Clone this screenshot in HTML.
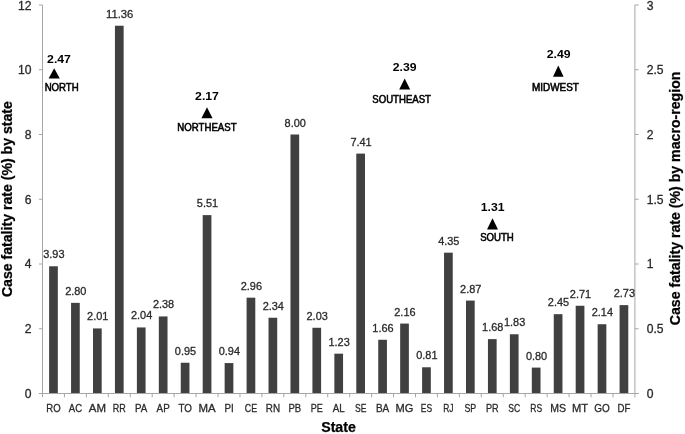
<!DOCTYPE html><html><head><meta charset="utf-8"><style>html,body{margin:0;padding:0;background:#fff;}svg{display:block;}text{font-family:"Liberation Sans",Arial,sans-serif;}</style></head><body>
<svg width="685" height="434" viewBox="0 0 685 434">
<rect width="685" height="434" fill="#fff"/>
<g fill="#404040">
<rect x="49.12" y="266.27" width="8.70" height="127.23"/>
<rect x="71.06" y="302.85" width="8.70" height="90.65"/>
<rect x="93.00" y="328.43" width="8.70" height="65.07"/>
<rect x="114.94" y="25.72" width="8.70" height="367.78"/>
<rect x="136.88" y="327.45" width="8.70" height="66.05"/>
<rect x="158.82" y="316.45" width="8.70" height="77.05"/>
<rect x="180.76" y="362.74" width="8.70" height="30.76"/>
<rect x="202.71" y="215.11" width="8.70" height="178.39"/>
<rect x="224.65" y="363.07" width="8.70" height="30.43"/>
<rect x="246.59" y="297.67" width="8.70" height="95.83"/>
<rect x="268.53" y="317.74" width="8.70" height="75.76"/>
<rect x="290.47" y="134.50" width="8.70" height="259.00"/>
<rect x="312.41" y="327.78" width="8.70" height="65.72"/>
<rect x="334.35" y="353.68" width="8.70" height="39.82"/>
<rect x="356.29" y="153.60" width="8.70" height="239.90"/>
<rect x="378.23" y="339.76" width="8.70" height="53.74"/>
<rect x="400.17" y="323.57" width="8.70" height="69.93"/>
<rect x="422.11" y="367.28" width="8.70" height="26.22"/>
<rect x="444.05" y="252.67" width="8.70" height="140.83"/>
<rect x="465.99" y="300.58" width="8.70" height="92.92"/>
<rect x="487.94" y="339.11" width="8.70" height="54.39"/>
<rect x="509.88" y="334.25" width="8.70" height="59.25"/>
<rect x="531.82" y="367.60" width="8.70" height="25.90"/>
<rect x="553.76" y="314.18" width="8.70" height="79.32"/>
<rect x="575.70" y="305.76" width="8.70" height="87.74"/>
<rect x="597.64" y="324.22" width="8.70" height="69.28"/>
<rect x="619.58" y="305.12" width="8.70" height="88.38"/>
</g>
<g stroke="#a6a6a6" stroke-width="1" fill="none">
<line x1="42.5" y1="5.0" x2="42.5" y2="393.5"/>
<line x1="634.9" y1="5.0" x2="634.9" y2="393.5"/>
<line x1="38.9" y1="393.5" x2="638.6999999999999" y2="393.5"/>
<line x1="38.9" y1="393.50" x2="42.5" y2="393.50"/>
<line x1="634.9" y1="393.50" x2="638.6999999999999" y2="393.50"/>
<line x1="38.9" y1="328.75" x2="42.5" y2="328.75"/>
<line x1="634.9" y1="328.75" x2="638.6999999999999" y2="328.75"/>
<line x1="38.9" y1="264.00" x2="42.5" y2="264.00"/>
<line x1="634.9" y1="264.00" x2="638.6999999999999" y2="264.00"/>
<line x1="38.9" y1="199.25" x2="42.5" y2="199.25"/>
<line x1="634.9" y1="199.25" x2="638.6999999999999" y2="199.25"/>
<line x1="38.9" y1="134.50" x2="42.5" y2="134.50"/>
<line x1="634.9" y1="134.50" x2="638.6999999999999" y2="134.50"/>
<line x1="38.9" y1="69.75" x2="42.5" y2="69.75"/>
<line x1="634.9" y1="69.75" x2="638.6999999999999" y2="69.75"/>
<line x1="38.9" y1="5.00" x2="42.5" y2="5.00"/>
<line x1="634.9" y1="5.00" x2="638.6999999999999" y2="5.00"/>
<line x1="42.50" y1="393.5" x2="42.50" y2="397.3"/>
<line x1="64.44" y1="393.5" x2="64.44" y2="397.3"/>
<line x1="86.38" y1="393.5" x2="86.38" y2="397.3"/>
<line x1="108.32" y1="393.5" x2="108.32" y2="397.3"/>
<line x1="130.26" y1="393.5" x2="130.26" y2="397.3"/>
<line x1="152.20" y1="393.5" x2="152.20" y2="397.3"/>
<line x1="174.14" y1="393.5" x2="174.14" y2="397.3"/>
<line x1="196.09" y1="393.5" x2="196.09" y2="397.3"/>
<line x1="218.03" y1="393.5" x2="218.03" y2="397.3"/>
<line x1="239.97" y1="393.5" x2="239.97" y2="397.3"/>
<line x1="261.91" y1="393.5" x2="261.91" y2="397.3"/>
<line x1="283.85" y1="393.5" x2="283.85" y2="397.3"/>
<line x1="305.79" y1="393.5" x2="305.79" y2="397.3"/>
<line x1="327.73" y1="393.5" x2="327.73" y2="397.3"/>
<line x1="349.67" y1="393.5" x2="349.67" y2="397.3"/>
<line x1="371.61" y1="393.5" x2="371.61" y2="397.3"/>
<line x1="393.55" y1="393.5" x2="393.55" y2="397.3"/>
<line x1="415.49" y1="393.5" x2="415.49" y2="397.3"/>
<line x1="437.43" y1="393.5" x2="437.43" y2="397.3"/>
<line x1="459.37" y1="393.5" x2="459.37" y2="397.3"/>
<line x1="481.31" y1="393.5" x2="481.31" y2="397.3"/>
<line x1="503.26" y1="393.5" x2="503.26" y2="397.3"/>
<line x1="525.20" y1="393.5" x2="525.20" y2="397.3"/>
<line x1="547.14" y1="393.5" x2="547.14" y2="397.3"/>
<line x1="569.08" y1="393.5" x2="569.08" y2="397.3"/>
<line x1="591.02" y1="393.5" x2="591.02" y2="397.3"/>
<line x1="612.96" y1="393.5" x2="612.96" y2="397.3"/>
<line x1="634.90" y1="393.5" x2="634.90" y2="397.3"/>
</g>
<g fill="#2a2a2a" stroke="#2a2a2a" stroke-width="0.3">
<text x="31.40" y="397.95" font-size="12.2" text-anchor="end" textLength="6.76" lengthAdjust="spacingAndGlyphs">0</text>
<text x="31.40" y="333.20" font-size="12.2" text-anchor="end" textLength="6.76" lengthAdjust="spacingAndGlyphs">2</text>
<text x="31.40" y="268.45" font-size="12.2" text-anchor="end" textLength="6.76" lengthAdjust="spacingAndGlyphs">4</text>
<text x="31.40" y="203.70" font-size="12.2" text-anchor="end" textLength="6.76" lengthAdjust="spacingAndGlyphs">6</text>
<text x="31.40" y="138.95" font-size="12.2" text-anchor="end" textLength="6.76" lengthAdjust="spacingAndGlyphs">8</text>
<text x="31.40" y="74.20" font-size="12.2" text-anchor="end" textLength="13.51" lengthAdjust="spacingAndGlyphs">10</text>
<text x="31.40" y="10.15" font-size="12.2" text-anchor="end" textLength="13.51" lengthAdjust="spacingAndGlyphs">12</text>
<text x="646.70" y="397.95" font-size="12.2" text-anchor="start" textLength="6.76" lengthAdjust="spacingAndGlyphs">0</text>
<text x="646.70" y="333.20" font-size="12.2" text-anchor="start" textLength="16.88" lengthAdjust="spacingAndGlyphs">0.5</text>
<text x="646.70" y="268.45" font-size="12.2" text-anchor="start" textLength="6.76" lengthAdjust="spacingAndGlyphs">1</text>
<text x="646.70" y="203.70" font-size="12.2" text-anchor="start" textLength="16.88" lengthAdjust="spacingAndGlyphs">1.5</text>
<text x="646.70" y="138.95" font-size="12.2" text-anchor="start" textLength="6.76" lengthAdjust="spacingAndGlyphs">2</text>
<text x="646.70" y="74.20" font-size="12.2" text-anchor="start" textLength="16.88" lengthAdjust="spacingAndGlyphs">2.5</text>
<text x="646.70" y="10.15" font-size="12.2" text-anchor="start" textLength="6.76" lengthAdjust="spacingAndGlyphs">3</text>
</g>
<g fill="#2a2a2a" stroke="#2a2a2a" stroke-width="0.3">
<text x="53.87" y="258.27" font-size="11.1" text-anchor="middle" textLength="21.28" lengthAdjust="spacingAndGlyphs">3.93</text>
<text x="75.81" y="294.85" font-size="11.1" text-anchor="middle" textLength="21.28" lengthAdjust="spacingAndGlyphs">2.80</text>
<text x="97.75" y="320.43" font-size="11.1" text-anchor="middle" textLength="21.28" lengthAdjust="spacingAndGlyphs">2.01</text>
<text x="119.69" y="17.72" font-size="11.1" text-anchor="middle" textLength="27.36" lengthAdjust="spacingAndGlyphs">11.36</text>
<text x="141.63" y="319.45" font-size="11.1" text-anchor="middle" textLength="21.28" lengthAdjust="spacingAndGlyphs">2.04</text>
<text x="163.57" y="308.45" font-size="11.1" text-anchor="middle" textLength="21.28" lengthAdjust="spacingAndGlyphs">2.38</text>
<text x="185.51" y="354.74" font-size="11.1" text-anchor="middle" textLength="21.28" lengthAdjust="spacingAndGlyphs">0.95</text>
<text x="207.46" y="207.11" font-size="11.1" text-anchor="middle" textLength="21.28" lengthAdjust="spacingAndGlyphs">5.51</text>
<text x="229.40" y="355.07" font-size="11.1" text-anchor="middle" textLength="21.28" lengthAdjust="spacingAndGlyphs">0.94</text>
<text x="251.34" y="289.67" font-size="11.1" text-anchor="middle" textLength="21.28" lengthAdjust="spacingAndGlyphs">2.96</text>
<text x="273.28" y="309.74" font-size="11.1" text-anchor="middle" textLength="21.28" lengthAdjust="spacingAndGlyphs">2.34</text>
<text x="295.22" y="126.50" font-size="11.1" text-anchor="middle" textLength="21.28" lengthAdjust="spacingAndGlyphs">8.00</text>
<text x="317.16" y="319.78" font-size="11.1" text-anchor="middle" textLength="21.28" lengthAdjust="spacingAndGlyphs">2.03</text>
<text x="339.10" y="345.68" font-size="11.1" text-anchor="middle" textLength="21.28" lengthAdjust="spacingAndGlyphs">1.23</text>
<text x="361.04" y="145.60" font-size="11.1" text-anchor="middle" textLength="21.28" lengthAdjust="spacingAndGlyphs">7.41</text>
<text x="382.98" y="331.76" font-size="11.1" text-anchor="middle" textLength="21.28" lengthAdjust="spacingAndGlyphs">1.66</text>
<text x="404.92" y="315.57" font-size="11.1" text-anchor="middle" textLength="21.28" lengthAdjust="spacingAndGlyphs">2.16</text>
<text x="426.86" y="359.28" font-size="11.1" text-anchor="middle" textLength="21.28" lengthAdjust="spacingAndGlyphs">0.81</text>
<text x="448.80" y="244.67" font-size="11.1" text-anchor="middle" textLength="21.28" lengthAdjust="spacingAndGlyphs">4.35</text>
<text x="470.74" y="292.58" font-size="11.1" text-anchor="middle" textLength="21.28" lengthAdjust="spacingAndGlyphs">2.87</text>
<text x="492.69" y="331.11" font-size="11.1" text-anchor="middle" textLength="21.28" lengthAdjust="spacingAndGlyphs">1.68</text>
<text x="514.63" y="326.25" font-size="11.1" text-anchor="middle" textLength="21.28" lengthAdjust="spacingAndGlyphs">1.83</text>
<text x="536.57" y="359.60" font-size="11.1" text-anchor="middle" textLength="21.28" lengthAdjust="spacingAndGlyphs">0.80</text>
<text x="558.51" y="306.18" font-size="11.1" text-anchor="middle" textLength="21.28" lengthAdjust="spacingAndGlyphs">2.45</text>
<text x="580.45" y="297.76" font-size="11.1" text-anchor="middle" textLength="21.28" lengthAdjust="spacingAndGlyphs">2.71</text>
<text x="602.39" y="316.22" font-size="11.1" text-anchor="middle" textLength="21.28" lengthAdjust="spacingAndGlyphs">2.14</text>
<text x="624.33" y="297.12" font-size="11.1" text-anchor="middle" textLength="21.28" lengthAdjust="spacingAndGlyphs">2.73</text>
</g>
<g fill="#2a2a2a" stroke="#2a2a2a" stroke-width="0.3">
<text x="53.47" y="412.00" font-size="11.1" text-anchor="middle" textLength="14.34" lengthAdjust="spacingAndGlyphs">RO</text>
<text x="75.41" y="412.00" font-size="11.1" text-anchor="middle" textLength="13.25" lengthAdjust="spacingAndGlyphs">AC</text>
<text x="97.35" y="412.00" font-size="11.1" text-anchor="middle" textLength="17.20" lengthAdjust="spacingAndGlyphs">AM</text>
<text x="119.29" y="412.00" font-size="11.1" text-anchor="middle" textLength="13.03" lengthAdjust="spacingAndGlyphs">RR</text>
<text x="141.23" y="412.00" font-size="11.1" text-anchor="middle" textLength="12.26" lengthAdjust="spacingAndGlyphs">PA</text>
<text x="163.17" y="412.00" font-size="11.1" text-anchor="middle" textLength="13.14" lengthAdjust="spacingAndGlyphs">AP</text>
<text x="185.11" y="412.00" font-size="11.1" text-anchor="middle" textLength="13.45" lengthAdjust="spacingAndGlyphs">TO</text>
<text x="207.06" y="412.00" font-size="11.1" text-anchor="middle" textLength="17.20" lengthAdjust="spacingAndGlyphs">MA</text>
<text x="229.00" y="412.00" font-size="11.1" text-anchor="middle" textLength="9.22" lengthAdjust="spacingAndGlyphs">PI</text>
<text x="250.94" y="412.00" font-size="11.1" text-anchor="middle" textLength="12.26" lengthAdjust="spacingAndGlyphs">CE</text>
<text x="272.88" y="412.00" font-size="11.1" text-anchor="middle" textLength="14.26" lengthAdjust="spacingAndGlyphs">RN</text>
<text x="294.82" y="412.00" font-size="11.1" text-anchor="middle" textLength="12.73" lengthAdjust="spacingAndGlyphs">PB</text>
<text x="316.76" y="412.00" font-size="11.1" text-anchor="middle" textLength="12.06" lengthAdjust="spacingAndGlyphs">PE</text>
<text x="338.70" y="412.00" font-size="11.1" text-anchor="middle" textLength="11.99" lengthAdjust="spacingAndGlyphs">AL</text>
<text x="360.64" y="412.00" font-size="11.1" text-anchor="middle" textLength="11.37" lengthAdjust="spacingAndGlyphs">SE</text>
<text x="382.58" y="412.00" font-size="11.1" text-anchor="middle" textLength="13.35" lengthAdjust="spacingAndGlyphs">BA</text>
<text x="404.52" y="412.00" font-size="11.1" text-anchor="middle" textLength="17.83" lengthAdjust="spacingAndGlyphs">MG</text>
<text x="426.46" y="412.00" font-size="11.1" text-anchor="middle" textLength="11.26" lengthAdjust="spacingAndGlyphs">ES</text>
<text x="448.40" y="412.00" font-size="11.1" text-anchor="middle" textLength="10.34" lengthAdjust="spacingAndGlyphs">RJ</text>
<text x="470.34" y="412.00" font-size="11.1" text-anchor="middle" textLength="11.71" lengthAdjust="spacingAndGlyphs">SP</text>
<text x="492.29" y="412.00" font-size="11.1" text-anchor="middle" textLength="12.71" lengthAdjust="spacingAndGlyphs">PR</text>
<text x="514.23" y="412.00" font-size="11.1" text-anchor="middle" textLength="11.91" lengthAdjust="spacingAndGlyphs">SC</text>
<text x="536.17" y="412.00" font-size="11.1" text-anchor="middle" textLength="11.87" lengthAdjust="spacingAndGlyphs">RS</text>
<text x="558.11" y="412.00" font-size="11.1" text-anchor="middle" textLength="15.77" lengthAdjust="spacingAndGlyphs">MS</text>
<text x="580.05" y="412.00" font-size="11.1" text-anchor="middle" textLength="16.11" lengthAdjust="spacingAndGlyphs">MT</text>
<text x="601.99" y="412.00" font-size="11.1" text-anchor="middle" textLength="15.52" lengthAdjust="spacingAndGlyphs">GO</text>
<text x="623.93" y="412.00" font-size="11.1" text-anchor="middle" textLength="12.90" lengthAdjust="spacingAndGlyphs">DF</text>
</g>
<g fill="#000" font-weight="bold">
<path d="M54.20 68.30 L59.80 78.60 L48.60 78.60 Z"/>
<text x="59.00" y="62.80" font-size="11.8" text-anchor="middle" textLength="23.83" lengthAdjust="spacingAndGlyphs">2.47</text>
<text x="61.65" y="90.80" font-size="10.2" font-weight="normal" stroke="#000" stroke-width="0.55" text-anchor="middle" textLength="34.00" lengthAdjust="spacingAndGlyphs">NORTH</text>
<path d="M207.00 107.20 L212.55 118.30 L201.45 118.30 Z"/>
<text x="207.00" y="99.60" font-size="11.8" text-anchor="middle" textLength="23.83" lengthAdjust="spacingAndGlyphs">2.17</text>
<text x="206.95" y="130.80" font-size="10.2" font-weight="normal" stroke="#000" stroke-width="0.55" text-anchor="middle" textLength="59.20" lengthAdjust="spacingAndGlyphs">NORTHEAST</text>
<path d="M404.70 78.40 L410.20 89.50 L399.20 89.50 Z"/>
<text x="404.70" y="71.40" font-size="11.8" text-anchor="middle" textLength="23.83" lengthAdjust="spacingAndGlyphs">2.39</text>
<text x="401.65" y="102.90" font-size="10.2" font-weight="normal" stroke="#000" stroke-width="0.55" text-anchor="middle" textLength="58.60" lengthAdjust="spacingAndGlyphs">SOUTHEAST</text>
<path d="M492.50 218.30 L498.00 229.40 L487.00 229.40 Z"/>
<text x="492.60" y="210.70" font-size="11.8" text-anchor="middle" textLength="23.83" lengthAdjust="spacingAndGlyphs">1.31</text>
<text x="496.95" y="241.20" font-size="10.2" font-weight="normal" stroke="#000" stroke-width="0.55" text-anchor="middle" textLength="33.60" lengthAdjust="spacingAndGlyphs">SOUTH</text>
<path d="M558.30 65.60 L563.60 76.70 L553.00 76.70 Z"/>
<text x="558.65" y="58.40" font-size="11.8" text-anchor="middle" textLength="23.83" lengthAdjust="spacingAndGlyphs">2.49</text>
<text x="555.45" y="91.20" font-size="10.2" font-weight="normal" stroke="#000" stroke-width="0.55" text-anchor="middle" textLength="46.80" lengthAdjust="spacingAndGlyphs">MIDWEST</text>
</g>
<g fill="#000" stroke="#000" stroke-width="0.25" font-weight="bold" font-size="14" text-anchor="middle">
<text x="338.5" y="432.0" textLength="34.6" lengthAdjust="spacingAndGlyphs">State</text>
<text transform="translate(12.1,199.1) rotate(-90)" textLength="196" lengthAdjust="spacingAndGlyphs">Case fatality rate (%) by state</text>
<text transform="translate(679.8,198.4) rotate(-90)" textLength="253.6" lengthAdjust="spacingAndGlyphs">Case fatality rate (%) by macro-region</text>
</g>
</svg></body></html>
